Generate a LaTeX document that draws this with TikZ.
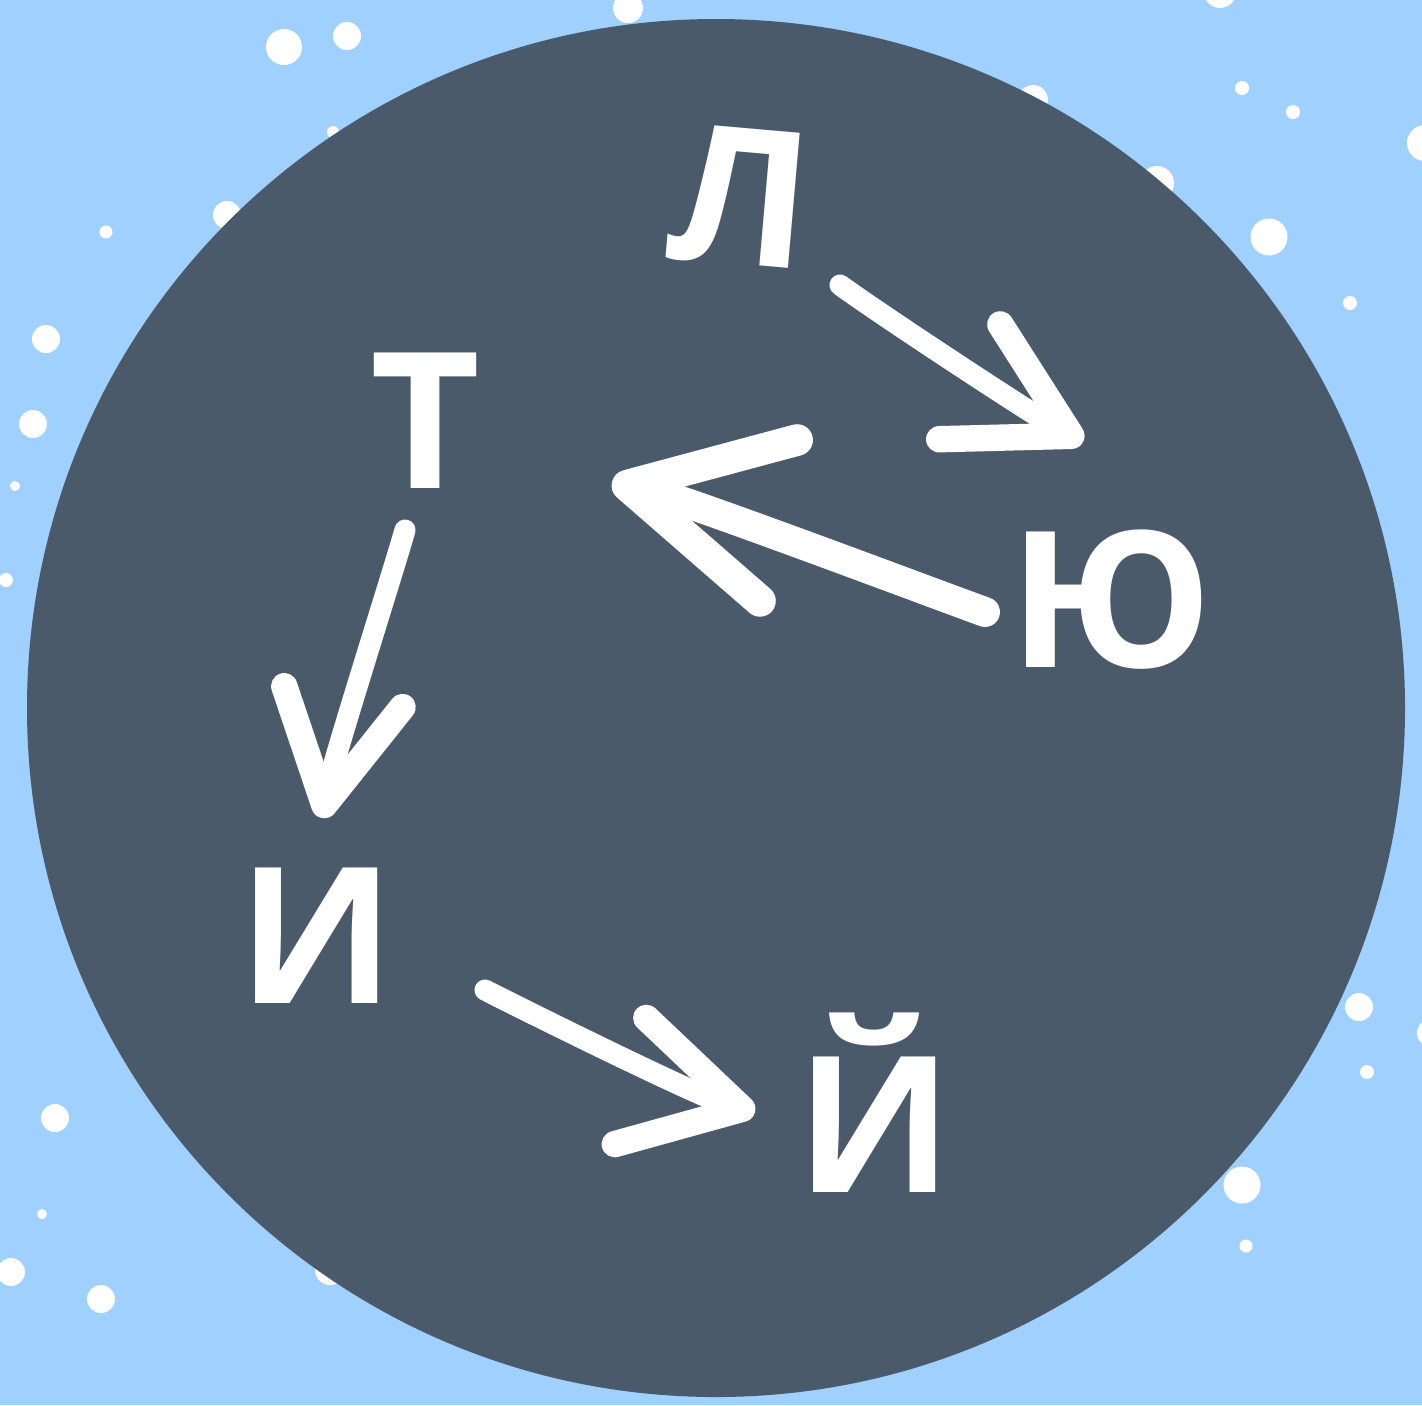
\documentclass[tikz,border=0pt]{standalone}
\usepackage{fontspec}
\usepackage{xcolor}
\usepackage{tikz}
\usetikzlibrary{arrows.meta,calc}
\newfontfamily\letterfont{Open Sans}
\definecolor{skyback}{RGB}{159,208,254}
\definecolor{slatedisc}{RGB}{75,90,107}
\tikzset{
  letter/.style={text=white, inner sep=0pt, anchor=base,
    font=\letterfont\bfseries\fontsize{54}{60}\selectfont},
  brush/.style={draw=white, line width=6pt, line cap=round, line join=round,
    looseness=0.45,
    -{Straight Barb[round, line width=7.5pt, length=1.15cm, width=1.3cm]}}
}

\begin{document}
\begin{tikzpicture}[x=0.01cm, y=-0.01cm]
  \clip (0,0) rectangle (1422,1405);
  \fill[skyback] (0,0) rectangle (1422,1405);

  % Snow dots behind the disc
  \foreach \px/\py/\pr in {284/47/18, 347/36/14, 628/8/15, 1220/-8/16,
      1242/88/7, 1293/112/7, 1425/143/18, 1269/237/18.5, 1350/303/7,
      1033/100/15, 1157/183/17, 333/132/6, 227/215/14, 106/232/6.5,
      46/339/14, 33/424/14, 15/486/5, 6/580/7, 1359/1007/14,
      1431/1033/14, 1367/1072/7, 55/1118/14, 1242/1185/18.5, 42/1214/5,
      1246/1246/6.5, 11/1272/14, 101/1299/14, 330/1270/15}
    \fill[white] (\px,\py) circle (\pr);

  % Disc
  \fill[slatedisc] (716,708) circle (689);

  % Letters
  \node[letter, rotate=-5] (L) at (735,264) {Л};
  \node[letter] (U) at (1111,667) {Ю};
  \node[letter] (T) at (425,488) {Т};
  \node[letter] (I) at (317,1003) {И};
  \node[letter] (Y) at (875,1192) {Й};

  % Hand-drawn arrows
  \draw[brush] ($(L.base)+(105,21)$) to[out=-36, in=152] ($(U.base)+(-28,-225)$);
  \draw[brush, line width=8.5pt,
    -{Straight Barb[round, line width=9pt, length=1.55cm, width=1.65cm]}]
    ($(U.base)+(-126,-55)$) to[out=160, in=-13] ($(T.base)+(187,-6)$);
  \draw[brush, -{Straight Barb[round, line width=7.5pt, length=1.1cm, width=1.2cm]}]
    ($(T.base)+(-20,42)$) to[out=-106, in=80] ($(I.base)+(5,-185)$);
  \draw[brush] ($(I.base)+(168,-13)$) to[out=-27, in=166] ($(Y.base)+(-120,-80)$);
\end{tikzpicture}
\end{document}
